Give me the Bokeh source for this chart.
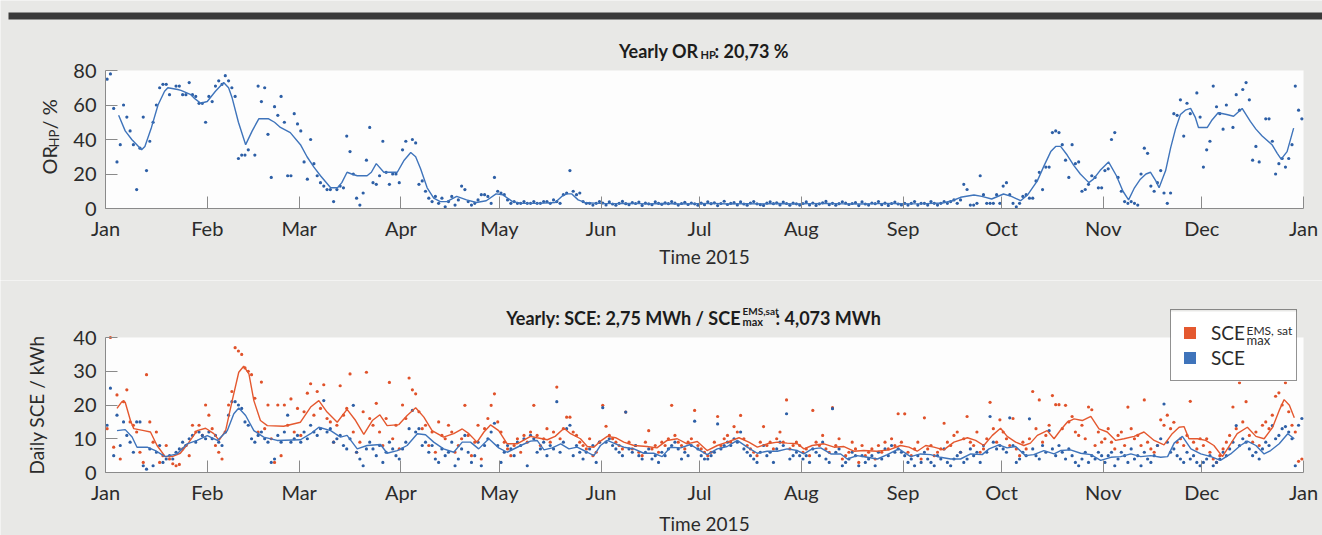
import numpy as np
from bokeh.plotting import figure
from bokeh.models import (Range1d, FixedTicker, Label, Legend, LegendItem, LinearAxis,
                          BoxAnnotation)
from bokeh.layouts import column
from bokeh.embed import file_html
from bokeh.resources import INLINE

# ---------------- data ----------------
MONTH_TICKS = [0, 31, 59, 90, 120, 151, 181, 212, 243, 273, 304, 334, 365]
MONTH_LABELS = ["Jan", "Feb", "Mar", "Apr", "May", "Jun", "Jul", "Aug", "Sep", "Oct", "Nov", "Dec", "Jan"]
OR_TICKS = [0, 20, 40, 60, 80]
SCE_TICKS = [0, 10, 20, 30, 40]

# daily OR_HP values (%), one list per month (None = no dot)
OR_JAN = [75, 78, 58, 27, 37, 60, 53, 45, 37, 11, 35, 53, 22, 39, 50, 60, 70, 72, 72, 66, None, 71, 71, 66, 66, 73, 66, 65, 61, 61, 50]
OR_FEB = [65, 62, 71, 74, 72, 77, 74, 70, 65, 29, 31, 31, 34, None, 31, 71, 62, 70, 43, 18, 59, 54, 65, 50, 19, 19, 55, 49]
OR_MAR = [45, 27, 17, 40, 26, 19, 15, 13, 11, 11, 4, 11, 13, 12, 42, 33, 20, 6, 2, 9, 28, 47, 15, 14, 19, 39, 21, 14, 20, 20, 15]
OR_APR = [34, 39, None, 40, 38, 14, 16, 10, 6, 4, 7, 3, 6, 1, 4, 7, 2, 5, 13, 11, 4, 2, 3, 5, 8, 8, 7, 3, 18, 10]
OR_MAY = [9, 8, 5, 3, 4, 3, 3, 4, 3, 3, 4, 3, 3, 4, 4, 3, 5, 4, 3, 8, 9, 22, 10, 8, 9, 4, 3, 3, 2, 3, 4]
OR_JUN = [3.2, 2.1, 3.8, 2.6, 1.9, 3.0, 4.1, 2.8, 2.2, 3.4, 2.9, 3.7, 1.8, 3.1, 2.7, 2.2, 3.9, 3.0, 2.4, 3.3, 2.8, 4.0, 3.1, 2.0, 2.9, 3.6, 2.3, 3.2, 2.7, 1.9]
OR_JUL = [3.1, 2.2, 3.9, 2.8, 3.3, 1.7, 2.9, 4.2, 2.3, 3.0, 3.4, 2.1, 3.8, 2.6, 1.9, 3.2, 4.0, 2.7, 2.2, 1.8, 3.1, 3.9, 2.8, 3.3, 2.1, 3.7, 2.9, 1.9, 3.2, 2.7, 2.0]
OR_AUG = [2.9, 3.8, 2.1, 3.2, 1.8, 2.7, 3.3, 4.1, 2.2, 3.0, 1.9, 2.8, 3.9, 3.1, 2.3, 2.9, 3.4, 1.7, 3.8, 2.6, 2.0, 3.2, 2.8, 4.0, 2.2, 3.1, 1.8, 2.9, 3.7, 2.6, 2.1]
OR_SEP = [3, 2, 3, 4, 2, 3, 3, 2, 4, 3, 2, 3, 4, 3, 4, 5, 3, 5, 14, 11, 2, 2, 3, 19, 8, 3, 3, 3, 8, 3]
OR_OCT = [13, 15, 8, 3, 1, 3, 7, 8, 6, 6, 16, 21, 11, 24, 24, 44, 45, 44, 37, 28, 18, 37, 26, 27, 10, 11, 14, 19, 18, 12, 12]
OR_NOV = [22, 23, 40, 44, 18, 10, 4, 3, 4, 3, 2, 20, 35, 32, 13, 10, 15, 22, 9, 3, 9, 55, 54, 63, 42, 61, 55, None, 67, 53]
OR_DEC = [24, 34, 39, 71, 59, 55, 46, 60, None, 47, 66, 57, 69, 73, 63, 28, 36, 27, None, 52, 52, 39, 20, 26, 29, 24, 29, 37, 71, 57, 52]

# smoothed OR_HP curve (day of year, %)
OR_LINE_DAY = [4, 6, 8, 11, 12, 14, 16, 18, 19, 22, 23, 26, 27, 29, 31, 33.5, 36, 37.5, 38.6, 40.5,
               42.7, 44.7, 46.7, 49.7, 51.5, 53.3, 56.3, 59.4, 61.4, 63.5, 65.5, 68.6, 70.7, 72, 73.6, 75, 76.7, 79.7, 81, 82.5,
               84.8, 86.5, 88.9, 91, 93, 94.5, 96, 98, 100, 102, 104, 107, 110, 113, 116, 119, 121, 124, 127, 132,
               137, 139, 140.5, 142, 144, 146, 150, 155, 160, 165, 170, 175, 180, 185, 190, 195, 200, 205, 210, 215,
               220, 225, 230, 235, 240, 245, 250, 255, 258, 260.5, 264.6, 267, 270, 273.6, 276, 278.8, 281, 283.9, 286, 288,
               289.5, 291, 293, 295, 297, 299.6, 301, 303, 305.6, 308, 310, 311.7, 313.5, 315.3, 317, 318.4, 320, 321, 323, 324.5,
               326, 327.5, 329, 330.6, 332, 333, 335.7, 337, 339, 341.6, 343.7, 346.3, 348.8, 350.5, 352.4, 355.4, 357, 358.2, 360, 362]
OR_LINE_VAL = [54, 45, 40, 34, 36, 47, 60, 68, 70, 69, 68.5, 66, 64, 61, 62, 68, 73, 70, 64, 50,
               37, 45, 52, 52, 50, 47, 44, 37, 30, 24, 19, 12, 12, 15, 21, 20, 19, 19, 21, 26,
               21, 21, 21, 28, 32.5, 30, 23, 12, 6, 4, 4, 7, 5, 3.5, 4.5, 8.5, 8, 4, 3, 3,
               3.5, 7, 8.5, 8.5, 5, 3.5, 3, 2.8, 3, 2.7, 2.9, 2.6, 2.8, 3, 2.6, 2.8, 2.7, 2.9, 2.6, 2.8,
               3, 2.7, 2.6, 2.8, 2.9, 2.7, 2.8, 3.2, 4.5, 6.5, 7.8, 7, 5.5, 8.4, 7, 4.5, 8, 16, 25, 33,
               36, 36, 31, 25, 20, 15, 17, 22, 27, 19, 10, 5, 12, 17, 20, 21, 16, 12, 22, 35,
               46, 54.5, 57, 58, 53, 47, 47, 51, 55.5, 54.5, 53.5, 58, 50.5, 46, 42, 37, 32, 28.6, 33, 46.6]

# daily SCE max (EMS, sat) values, kWh
SCEMAX_JAN = [13, 40, 7.5, 23, 4, 21, 24.5, 15, 14, 12, 6, 3, 29, 15, 9, 12, 3, 5, 8, 4, 2.6, 2, 2.4, 7, 8, 5, 14, 12, 14, 11, 20]
SCEMAX_FEB = [17, 13, 8, 6, 4, 12, 20, 24, 37, 36, 35, 31, 30, 29, 22, 12, 26.8, 13, 20, 10, 3, 20, 5, 20, 14, 21.8, 12, 19]
SCEMAX_MAR = [11, 18, 23.5, 26.3, 17, 24, 19, 26, 16, 15, 9, 14, 25.7, 17, 19, 29.2, 12, 6, 9, 18, 29.7, 16, 14, 20.5, 12, 8, 16, 26.7, 10, 14, 7]
SCEMAX_APR = [20, 16, 28, 24.5, 23.3, 18, 13, 14, 8, 12, 6, 15, 11, 10, 14, 12, 6, 8, 10, 19.9, 11, 5, 9, 14, 4, 13, 16, 19.9, 23.3, 15]
SCEMAX_MAY = [12, 9, 7, 5, 8, 10, 6, 11, 9, 12, 19.9, 11, 8, 10, 13, 9, 12, 25.3, 10, 13, 16.4, 16.4, 12, 11, 9, 8, 7, 10, 5, 6, 9]
SCEMAX_JUN = [19.9, 13.7, 11, 10, 9, 8, 7, 17.9, 9, 7, 8, 6, 5, 9, 12.4, 7, 8, 6, 9, 8, 10, 19.9, 11, 9, 8, 7, 9, 10, 18.4, 8]
SCEMAX_JUL = [7, 6, 5, 6, 9, 16.6, 8, 10, 11, 9, 13.6, 12, 16.9, 10, 8, 7, 6, 5, 9, 13.6, 8, 9, 7, 10, 12, 9, 21.5, 7, 8, 9, 8]
SCEMAX_AUG = [6, 7, 5, 18.4, 9, 8, 11, 7, 6, 19.2, 8, 10, 4, 5, 6, 9, 7, 3, 8, 5, 6, 7, 4, 8, 6, 9, 7, 10, 8, 17.4, 9]
SCEMAX_SEP = [17.4, 6, 5, 7, 9, 4, 16.2, 7, 8, 5, 6, 7, 14.6, 9, 8, 11, 12, 6, 10, 16.6, 9, 8, 12, 6, 7, 10, 20.8, 13, 9, 15.6]
SCEMAX_OCT = [12, 10, 8, 16, 7, 5, 9, 7, 10, 24, 13, 21.5, 9, 11, 14, 22.8, 20.1, 20.1, 13, 19.9, 15, 16.6, 12, 11, 14, 10, 19.4, 18.6, 8, 12, 9]
SCEMAX_NOV = [10, 13, 9, 7, 11, 12, 8, 19.4, 13, 10, 11, 8, 21.5, 9, 7, 6, 8, 15.6, 14, 17, 13, 14.9, 9, 10, 8, 11, 21.1, 9, 7, 10]
SCEMAX_DEC = [8, 10, 6, 4, 3, 5, 7, 9, 11, 19.4, 13, 26.6, 15, 21, 11, 9, 12, 8, 14, 15, 13, 17, 22.6, 23.6, 20, 26.6, 18, 14, 12, 3.3, 4]

# daily SCE values, kWh
SCE_JAN = [14, 25, 5, 17, 8, 15, 11, 9, 6, 15, 15, 2, 1, 7, 2, 6, 8, 3, 4, 5, 4, 6, 7, 9, 8, 10, 11, 9, 12, 11, 10]
SCE_FEB = [12, 10, 11, 9, 8, 12, 17, 21, 21, 20, 19, 15, 14, 10, 9, 11, 12, 10, 9, 3, 4, 11, 9, 12, 17, 9, 10, 11]
SCE_MAR = [9, 12, 10, 14, 12, 11, 13, 21.3, 12, 13, 9, 10, 11, 8, 7, 10, 19.9, 6, 4, 2, 7, 9, 7, 5, 8, 3, 6, 9, 7, 5, 4]
SCE_APR = [7, 9, 13, 18.4, 12, 13, 8, 9, 6, 8, 4, 3, 7, 5, 6, 9, 2, 4, 7, 11, 6, 3, 5, 9, 2, 8, 10, 12, 14.6, 8]
SCE_MAY = [3, 6, 8, 7, 5, 9, 8, 10, 2, 11, 10, 6, 7, 9, 5, 8, 7, 21, 6, 9, 13, 14, 5, 8, 6, 4, 6, 7, 8, 3, 9]
SCE_JUN = [19.2, 9, 10, 8, 7, 6, 5, 17.9, 7, 6, 8, 5, 4, 6, 7, 4, 5, 3, 6, 5, 7, 8, 9, 7, 4, 6, 5, 8, 15.2, 7]
SCE_JUL = [5, 4, 4, 5, 6, 14.4, 7, 8, 9, 8, 10, 9, 12, 7, 6, 5, 4, 3, 6, 8, 5, 6, 3, 7, 9, 8, 17.4, 4, 5, 6, 5]
SCE_AUG = [4, 5, 3, 7, 6, 5, 9, 4, 3, 18.9, 6, 7, 2, 3, 4, 6, 5, 2, 5, 3, 4, 5, 2, 6, 4, 7, 5, 8, 6, 7, 6]
SCE_SEP = [5, 3, 4, 2, 5, 3, 6, 4, 3, 2, 5, 4, 7, 3, 2, 4, 5, 6, 3, 4, 7, 5, 6, 3, 8, 6, 16.6, 9, 7, 8]
SCE_OCT = [7, 6, 16.2, 8, 3, 4, 6, 5, 15.9, 7, 5, 4, 8, 6, 12.4, 7, 5, 8, 6, 4, 7, 5, 3, 2, 4, 6, 3, 5, 4, 6, 5]
SCE_NOV = [3, 5, 6, 2, 4, 6, 5, 3, 7, 4, 5, 2, 6, 4, 3, 5, 8, 10, 20.3, 9, 6, 7, 5, 4, 3, 6, 4, 5, 3, 2]
SCE_DEC = [3, 4, 5, 2, 3, 4, 6, 5, 7, 9, 13.9, 8, 10, 9, 7, 5, 6, 4, 7, 9, 8, 13.9, 10, 11, 13, 13.6, 12, 10, 2, 14, 16]

# smoothed curves (day of year, kWh)
SCEMAX_LINE_DAY = [3.5, 5, 6, 7.6, 8.6, 11.7, 13.7, 15.7, 18.2, 20.3, 22.8, 25.4, 27.9, 30.5, 33, 34.6, 36.6, 38.6, 40.6, 42.1,
                   43.7, 45.2, 47.2, 49.3, 54.3, 59.4, 62.5, 65, 67.5, 70.6, 73.6, 76.2, 78.7, 81.3, 83.6, 85.8, 89.4, 91.9, 94.5, 97,
                   99.5, 103, 106.1, 108.7, 110.7, 113.2, 115.3, 117.3, 119.8, 122.4, 125.4, 129.5, 131.5, 134.6, 137, 139.7, 141.7, 144.7, 146.8, 148.8,
                   150.8, 152.9, 155.4, 157.9, 161, 165, 168, 171.1, 174.2, 177.2, 180.3, 183.3, 186.4, 189.4, 193, 196, 198.6, 201.6, 204.7, 207.7,
                   210.8, 212.8, 215.3, 218.9, 222, 225, 228, 231, 235, 238.7, 242.2, 244.8, 247.3, 249.9, 252.4, 255.4, 258.5, 262.6, 265.1, 267.6,
                   270.2, 272.7, 274.7, 277.3, 279.8, 281.8, 283.9, 286.9, 289, 291, 293, 295.1, 297.6, 300.2, 302.7, 305.2, 307.8, 310.3, 313.4, 316.4,
                   319.5, 322.5, 325, 327.1, 328.6, 330.1, 332.7, 335.2, 337.7, 340.3, 342.8, 344.8, 347.9, 350.5, 353, 355.6, 357.6, 359.1, 360.7, 362.2]
SCEMAX_LINE_VAL = [19, 21, 20.8, 15.4, 13, 12.4, 12, 8, 4.7, 4.7, 5.7, 8.9, 12.4, 13.1, 11.5, 9.5, 12.4, 21.3, 29.7, 31.5,
                   29.2, 21.3, 15.4, 13.9, 13.7, 14.9, 19.4, 21.3, 17.9, 14.9, 18.7, 15.4, 11.3, 15.4, 17.1, 13.9, 14.2, 16.9, 19.2, 16.4,
                   12.4, 10.5, 11.5, 12.9, 11.5, 9, 12, 14.1, 12.4, 8.5, 8.5, 10.7, 10.3, 9.7, 10.7, 13.1, 11.5, 10, 7.7, 7.5,
                   9.3, 10.7, 10.3, 9, 8, 7.7, 7.3, 9.5, 10, 8.5, 9.2, 6.5, 8, 9, 10.3, 9, 7.5, 8.5, 9, 8.7,
                   8.5, 7, 8, 8.5, 7.5, 7.7, 6.3, 6.5, 6.3, 6.7, 8, 7.5, 6.3, 8, 7.5, 6.7, 9, 10.3, 9.5, 8,
                   11, 13.1, 10.7, 9, 8, 8.7, 11, 12.4, 10, 12.6, 14.9, 15.9, 15.4, 16.6, 12.9, 12, 9.5, 10, 10.7, 12,
                   9.5, 8.2, 11.5, 13.4, 13.6, 10, 10, 9.5, 8, 4.7, 8.5, 11.5, 13.4, 10.7, 10, 13.4, 18.4, 21.6, 19.9, 16.2]

SCE_LINE_DAY = [3.5, 6, 8.1, 9.6, 12.7, 15.2, 18.2, 21.8, 24.9, 27.9, 31, 34.1, 37.1, 39.1, 40.6, 42.7, 45.2, 48.2, 52.3, 59.4,
                62.5, 65, 68.6, 71.6, 73.6, 76.7, 79.7, 83.8, 85.8, 88.9, 91.9, 95, 97.5, 100, 103, 106.1, 108.7, 111.2, 113.7, 116.8,
                119.8, 122.4, 126.5, 129.5, 131.5, 133.6, 136.1, 138.7, 141.2, 143.7, 146.8, 148.8, 150.8, 152.9, 155.4, 157.9, 161, 164, 167, 169.6,
                172.1, 175.2, 178.2, 180.8, 183.3, 186.4, 189.4, 192.5, 195.5, 198.6, 201.6, 204.7, 207.7, 210.8, 212.8, 215.3, 217.9, 221, 224, 226,
                229, 232.1, 235.2, 238.2, 241.7, 245.3, 248.3, 251.4, 254.4, 257.5, 260.5, 263.6, 267.1, 269.2, 272.2, 274.7, 277.3, 280.3, 282.8, 285.9,
                289, 291, 294, 297.1, 300.2, 303.2, 306.3, 309.3, 312.4, 315.4, 318.5, 321.5, 323.6, 325.6, 328.1, 330.7, 333.7, 336.8, 339.7, 342.8,
                345.8, 347.9, 350.5, 353, 355, 357.6, 360.2, 362.2]
SCE_LINE_VAL = [12.4, 12.7, 10.5, 7.5, 7.5, 6.5, 4.7, 5.5, 8.5, 9.5, 10.9, 9.5, 12.4, 17.4, 19.1, 16.9, 12.4, 10.5, 9.5, 9.7,
                11.5, 13.4, 12.4, 10.5, 11, 7, 8, 8.3, 5.7, 6.5, 8, 11.5, 11.2, 9, 7, 6, 9, 9, 7, 10,
                7.3, 6, 8, 9.3, 9.5, 6.7, 7.3, 8.5, 7, 7.5, 6, 5, 8, 9.5, 8.5, 7.5, 7, 5.7, 5.7, 4.7,
                7.5, 7.3, 8.3, 6.7, 5.3, 7, 7.7, 9.5, 7.5, 5.7, 6.3, 6.3, 7, 6.5, 5.5, 7, 7.3, 5.5, 5.5, 4,
                5, 4.5, 4, 5.3, 7, 4.7, 5.5, 5.3, 4.5, 4, 4, 5.5, 5.3, 7, 8.2, 7.3, 7.7, 5, 5.3, 6.5,
                5.5, 6.5, 6.7, 5.7, 5.3, 3.6, 4.5, 4.7, 5.5, 4.7, 5, 4.5, 4.7, 8.7, 10.7, 7, 5.5, 4.7, 3.6, 5.5,
                8, 9.3, 8, 5.5, 6.5, 8.5, 11.5, 10]

# ---------------- helpers ----------------
def daily(*months):
    vals = np.array([v for m in months for v in m], dtype=float)
    days = np.arange(len(vals)) + 0.5
    ok = ~np.isnan(vals)
    return days[ok], vals[ok]

or_x, or_y = daily(OR_JAN, OR_FEB, OR_MAR, OR_APR, OR_MAY, OR_JUN, OR_JUL, OR_AUG, OR_SEP, OR_OCT, OR_NOV, OR_DEC)
smx_x, smx_y = daily(SCEMAX_JAN, SCEMAX_FEB, SCEMAX_MAR, SCEMAX_APR, SCEMAX_MAY, SCEMAX_JUN, SCEMAX_JUL,
                     SCEMAX_AUG, SCEMAX_SEP, SCEMAX_OCT, SCEMAX_NOV, SCEMAX_DEC)
sce_x, sce_y = daily(SCE_JAN, SCE_FEB, SCE_MAR, SCE_APR, SCE_MAY, SCE_JUN, SCE_JUL, SCE_AUG, SCE_SEP,
                     SCE_OCT, SCE_NOV, SCE_DEC)

# ---------------- styling / geometry ----------------
FONT = "Lato"
PAPER = "#e8e8e6"
FRAME_BG = "#fdfdfd"
AXIS_C = "#8a8a8a"
TXT_C = "#2b2b2b"
TITLE_C = "#1c1c1c"
BLUE_DOT = "#2d5fa6"
BLUE_LINE = "#3f74bb"
ORANGE_DOT = "#e0522a"
ORANGE_LINE = "#e4582f"

PAGE_W = 1322
X0 = 105                       # pixel of Jan 1
PXD = 1198 / 365.0             # pixels per day

def dx(px):
    return (px - X0) / PXD

# top panel: canvas 0..280 px, axis baseline at 208 px, 80 % = 138 px
H1, BASE1, PXV1 = 280, 208, 138 / 80.0
# bottom panel: canvas 280..535 px, axis baseline at 472 px, 40 kWh = 135 px
TOP2, H2, BASE2, PXV2 = 280, 255, 472, 135 / 40.0

def dy1(py):
    return (BASE1 - py) / PXV1

def dy2(py):
    return (BASE2 - py) / PXV2


def make_fig(height, y_lo, y_hi, ymax, yticks, axlab_standoff):
    p = figure(width=PAGE_W, height=height, min_border=0,
               x_range=Range1d(dx(0), dx(PAGE_W)), y_range=Range1d(y_lo, y_hi),
               x_axis_type=None, y_axis_type=None,
               output_backend="svg", toolbar_location=None)
    p.background_fill_color = PAPER
    p.border_fill_color = PAPER
    p.outline_line_color = None
    p.add_layout(BoxAnnotation(left=0, right=365, bottom=0, top=ymax, fill_color=FRAME_BG,
                               fill_alpha=1.0, line_color=None, level="underlay"))
    xa = LinearAxis(fixed_location=0, bounds=(0, 365), ticker=FixedTicker(ticks=MONTH_TICKS),
                    major_label_overrides=dict(zip(MONTH_TICKS, MONTH_LABELS)),
                    axis_label="Time 2015", major_label_standoff=7, axis_label_standoff=axlab_standoff)
    ya = LinearAxis(fixed_location=0, bounds=(0, ymax), ticker=FixedTicker(ticks=yticks),
                    major_label_standoff=9)
    for ax in (xa, ya):
        ax.axis_line_color = AXIS_C
        ax.major_tick_line_color = AXIS_C
        ax.major_tick_in = 12
        ax.major_tick_out = 0
        ax.minor_tick_line_color = None
        ax.major_label_text_font = FONT
        ax.major_label_text_font_size = "20px"
        ax.major_label_text_color = TXT_C
        ax.axis_label_text_font = FONT
        ax.axis_label_text_font_size = "19px"
        ax.axis_label_text_font_style = "normal"
        ax.axis_label_text_color = TXT_C
    p.add_layout(xa, "below")
    p.add_layout(ya, "left")
    return p, ya


def add_text(p, text, x, y, size, bold=False, align="left", angle=0.0):
    p.add_layout(Label(x=x, y=y, text=text, text_font=FONT, text_font_size=f"{size}px",
                       text_font_style="bold" if bold else "normal",
                       text_color=TITLE_C if bold else TXT_C,
                       text_align=align, text_baseline="alphabetic", angle=angle))


# ---------------- top figure ----------------
p1, ya1 = make_fig(H1, dy1(H1), dy1(0), 80, OR_TICKS, 2)
# dark rule across the top of the page
p1.add_layout(BoxAnnotation(left=dx(8), right=dx(PAGE_W + 5), top=dy1(12), bottom=dy1(19),
                            fill_color="#3a3a3a", fill_alpha=1.0, line_color=None))
p1.scatter(or_x, or_y, size=3.2, color=BLUE_DOT, line_color=None)
p1.line(OR_LINE_DAY, OR_LINE_VAL, line_width=1.4, color=BLUE_LINE)

add_text(p1, "Yearly OR", dx(698), dy1(50), 18, bold=True, align="right")
add_text(p1, "HP", dx(700), dy1(54), 11, bold=True)
add_text(p1, ": 20,73 %", dx(714), dy1(50), 18, bold=True)
add_text(p1, "OR", dx(48), dy1(174), 20, angle=np.pi / 2)
add_text(p1, "HP", dx(53), dy1(147), 13, angle=np.pi / 2)
add_text(p1, "/ %", dx(48), dy1(129), 20, angle=np.pi / 2)

# ---------------- bottom figure ----------------
p2, ya2 = make_fig(H2, dy2(TOP2 + H2), dy2(TOP2), 40, SCE_TICKS, 5)
ya2.axis_label = "Daily SCE / kWh"
ya2.axis_label_standoff = 22
p2.scatter(smx_x, smx_y, size=3.2, color=ORANGE_DOT, line_color=None)
p2.scatter(sce_x, sce_y, size=3.2, color=BLUE_DOT, line_color=None)
p2.line(SCEMAX_LINE_DAY, SCEMAX_LINE_VAL, line_width=1.4, color=ORANGE_LINE)
p2.line(SCE_LINE_DAY, SCE_LINE_VAL, line_width=1.4, color=BLUE_LINE)

# white legend panel drawn under the (transparent) legend and its super/subscripts
p2.add_layout(BoxAnnotation(left=dx(1170), right=dx(1296), top=dy2(311), bottom=dy2(381),
                            fill_color="white", fill_alpha=1.0, line_color=None, level="annotation"))

add_text(p2, "Yearly: SCE: 2,75 MWh / SCE", dx(740), dy2(317), 18, bold=True, align="right")
add_text(p2, "EMS,sat", dx(742), dy2(310), 10, bold=True)
add_text(p2, "max", dx(742), dy2(321), 11, bold=True)
add_text(p2, ": 4,073 MWh", dx(775), dy2(317), 18, bold=True)
add_text(p2, "EMS, sat", dx(1246), dy2(330), 12)
add_text(p2, "max", dx(1246), dy2(339), 13)

# zero-size boxes from the series, used only as square legend swatches
r_o = p2.quad(left=smx_x, right=smx_x, top=smx_y, bottom=smx_y, fill_color=ORANGE_LINE, line_color=None)
r_b = p2.quad(left=sce_x, right=sce_x, top=sce_y, bottom=sce_y, fill_color=BLUE_LINE, line_color=None)
legend = Legend(items=[LegendItem(label="SCE", renderers=[r_o]),
                       LegendItem(label="SCE", renderers=[r_b])],
                location=(1170, TOP2 + H2 - 381), orientation="vertical", padding=11, spacing=2, margin=0,
                glyph_width=15, glyph_height=15, label_height=23, label_width=74, label_standoff=14,
                label_text_font=FONT, label_text_font_size="19px", label_text_color=TXT_C,
                border_line_color="#262626", border_line_width=1.5,
                background_fill_alpha=0.0)
p2.add_layout(legend)

layout = column(p1, p2, spacing=0)
open("out.html", "w").write(file_html(layout, INLINE))
